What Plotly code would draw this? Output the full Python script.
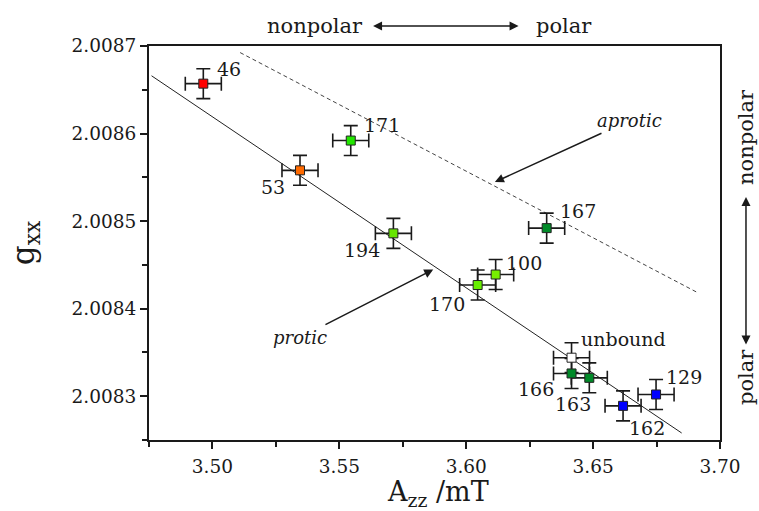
import plotly.graph_objects as go

# ---- data ----
labels = ["46", "53", "171", "194", "167", "100", "170", "unbound", "166", "163", "162", "129"]
azz = [3.4964, 3.5345, 3.5545, 3.5713, 3.6317, 3.6116, 3.6045, 3.6415, 3.6415, 3.6485, 3.6618, 3.6748]
gxx = [2.008657, 2.008558, 2.008592, 2.008486, 2.008492, 2.008439, 2.008427, 2.008344, 2.008326, 2.008321, 2.008289, 2.008302]
azz_err = [0.0071] * 12
gxx_err = [0.0000171] * 12
colors = ["#ff0000", "#ff6a00", "#22e600", "#66e600", "#008a28", "#77ee00", "#66ee00",
          "#ffffff", "#008a28", "#008a28", "#0000ff", "#0000ff"]
# label offsets (pixels) relative to point
lab_dx = [26, -27, 31, -31, 31, 28, -31, 52, -36, -16, 24, 28]
lab_dy = [15, -17, 16, -17, 17, 12, -19, 19, -16, -26, -22, 17]

protic_x = [3.476, 3.6849]
protic_y = [2.008666, 2.008258]
aprotic_x = [3.5109, 3.6914]
aprotic_y = [2.0086925, 2.008418]

x_ticks = [3.50, 3.55, 3.60, 3.65, 3.70]
x_ticktext = ["3.50", "3.55", "3.60", "3.65", "3.70"]
y_ticks = [2.0083, 2.0084, 2.0085, 2.0086, 2.0087]
y_ticktext = ["2.0083", "2.0084", "2.0085", "2.0086", "2.0087"]
x_title = "A<sub>zz</sub> /mT"
y_title = "g<sub>xx</sub>"

FONT = "DejaVu Serif"
INK = "#1a1a1a"

fig = go.Figure()
fig.add_trace(go.Scatter(x=protic_x, y=protic_y, mode="lines",
                         line=dict(color="#222222", width=1), hoverinfo="skip", showlegend=False))
fig.add_trace(go.Scatter(x=aprotic_x, y=aprotic_y, mode="lines",
                         line=dict(color="#444444", width=1, dash="4px,3px"), hoverinfo="skip", showlegend=False))
fig.add_trace(go.Scatter(
    x=azz, y=gxx, mode="markers", showlegend=False, text=labels,
    error_x=dict(type="data", array=azz_err, visible=True, color=INK, thickness=1.6, width=7),
    error_y=dict(type="data", array=gxx_err, visible=True, color=INK, thickness=1.6, width=7),
    marker=dict(symbol="square", size=9, color=colors, line=dict(color="#222222", width=1)),
))

annotations = []
for lx, ly, t, dx, dy in zip(azz, gxx, labels, lab_dx, lab_dy):
    annotations.append(dict(x=lx, y=ly, xref="x", yref="y", text=t, showarrow=False,
                            xshift=dx, yshift=dy, font=dict(family=FONT, size=19, color=INK)))

# aprotic / protic labels with arrows (arrow head at x,y; text at ax,ay)
annotations += [
    dict(x=3.6113, y=2.0085447, ax=3.6645, ay=2.0086152, xref="x", yref="y", axref="x", ayref="y",
         text="<i>aprotic</i>", showarrow=True, arrowhead=2, arrowsize=1.2, arrowwidth=1.5,
         arrowcolor=INK, borderpad=2, font=dict(family=FONT, size=18, color=INK)),
    dict(x=3.587, y=2.0084447, ax=3.5345, ay=2.0083670, xref="x", yref="y", axref="x", ayref="y",
         text="<i>protic</i>", showarrow=True, arrowhead=2, arrowsize=1.2, arrowwidth=1.5,
         arrowcolor=INK, borderpad=2, font=dict(family=FONT, size=18, color=INK)),
    # top polarity scale
    dict(x=3.5601, y=1.0508, xref="x", yref="paper", text="nonpolar", showarrow=False,
         xanchor="right", yanchor="middle", font=dict(family=FONT, size=21, color=INK)),
    dict(x=3.5633, y=1.0508, xref="x", yref="paper", ax=191, ay=0, text="polar", showarrow=True,
         arrowhead=2, startarrowhead=2, arrowside="end+start", arrowsize=1.2, arrowwidth=1.5,
         arrowcolor=INK, borderpad=17, font=dict(family=FONT, size=21, color=INK)),
    # right polarity scale
    dict(x=1.0455, y=0.769, xref="paper", yref="paper", text="nonpolar", showarrow=False,
         textangle=-90, xanchor="center", yanchor="middle", font=dict(family=FONT, size=21, color=INK)),
    dict(x=1.0455, y=0.6168, xref="paper", yref="paper", ax=0, ay=180, text="polar", showarrow=True,
         textangle=-90, arrowhead=2, startarrowhead=2, arrowside="end+start", arrowsize=1.2,
         arrowwidth=1.5, arrowcolor=INK, borderpad=4, font=dict(family=FONT, size=21, color=INK)),
    # x axis title
    dict(x=0.506, y=-0.137, xref="paper", yref="paper", text=x_title, showarrow=False,
         xanchor="center", yanchor="middle", font=dict(family=FONT, size=27, color=INK)),
]

fig.update_layout(
    width=759, height=511,
    margin=dict(l=149, r=39, t=46, b=71),
    paper_bgcolor="white", plot_bgcolor="white",
    font=dict(family=FONT, color=INK),
    annotations=annotations,
    xaxis=dict(
        range=[3.475, 3.70], tickvals=x_ticks, ticktext=x_ticktext, automargin=False,
        ticks="outside", ticklen=7, tickwidth=1.5, tickcolor=INK, ticklabelstandoff=2,
        minor=dict(tick0=3.475, dtick=0.025, ticks="outside", ticklen=5, tickwidth=1.5, tickcolor=INK),
        showline=True, linewidth=2, linecolor=INK, mirror=True, showgrid=False, zeroline=False,
        tickfont=dict(family=FONT, size=18.5, color=INK),
    ),
    yaxis=dict(
        range=[2.00825, 2.0087], tickvals=y_ticks, ticktext=y_ticktext, automargin=False,
        ticks="outside", ticklen=7, tickwidth=1.5, tickcolor=INK,
        minor=dict(tick0=2.00825, dtick=0.00005, ticks="outside", ticklen=5, tickwidth=1.5, tickcolor=INK),
        showline=True, linewidth=2, linecolor=INK, mirror=True, showgrid=False, zeroline=False,
        tickfont=dict(family=FONT, size=18.5, color=INK),
        title=dict(text=y_title, font=dict(family=FONT, size=31, color=INK), standoff=28),
    ),
)

fig.write_html("out.html")
